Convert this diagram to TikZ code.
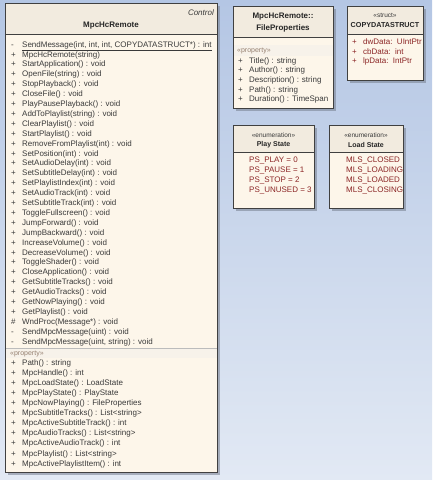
\documentclass[tikz,border=0pt]{standalone}
\usepackage{fontspec}
\setmainfont{Liberation Sans}
\usetikzlibrary{positioning}
\definecolor{bgtop}{RGB}{180,198,228}
\definecolor{bgbot}{RGB}{226,233,244}
\definecolor{boxbody}{RGB}{253,246,234}
\definecolor{boxhead}{RGB}{242,235,223}
\definecolor{propband}{RGB}{247,242,234}
\definecolor{boxline}{RGB}{64,64,64}
\definecolor{optext}{RGB}{58,58,58}
\definecolor{littext}{RGB}{140,38,38}
\definecolor{stereotext}{RGB}{150,128,112}
\definecolor{shadowc}{RGB}{118,126,142}
\newcommand{\vsign}[1]{\makebox[11pt][l]{#1}}

\begin{document}
\begin{tikzpicture}[x=1pt,y=-1pt]
		\tikzstyle{every node}+=[inner sep=0pt]
		\tikzstyle{member}=[anchor=west, font=\fontsize{8}{9}\selectfont, text=optext, text height=6pt, text depth=1.7pt]
		\tikzstyle{literal}=[member, text=littext]
		\tikzstyle{proplabel}=[member, font=\fontsize{7}{8}\selectfont, text=stereotext]
		\tikzstyle{stereotype}=[font=\fontsize{6.5}{7}\selectfont, text=optext]
		\tikzstyle{classname}=[font=\fontsize{8}{9}\selectfont\bfseries, text=black!85]
		\tikzstyle{classbox}=[draw=boxline, line width=0.8pt]
		\tikzstyle{boxshadow}=[fill=shadowc, opacity=0.55]
		\shade [top color=bgtop, bottom color=bgbot] (0,0) rectangle (432,480);
		\fill [boxshadow] (7.5,5.5) rectangle (219.5,474.5);
		\fill [boxbody] (5,3) rectangle (217,472);
		\fill [boxhead] (5,3) rectangle (217,34);
		\fill [propband] (5,348) rectangle (217,358);
		\draw [boxline] (5,34) -- (217,34);
		\draw [boxline!35] (5,348) -- (217,348);
		\draw [classbox] (5,3) rectangle (217,472);
		\node [font=\fontsize{8}{9}\selectfont\itshape, text=optext, anchor=east] (ctrl) at (214,13) {Control};
		\node [classname] (remote) at (111,26) {MpcHcRemote};
		\node [member] (m1) at (11,45) {\vsign{-}\underline{SendMessage(int, int, int, COPYDATASTRUCT*) : int}};
		\node [member] (m2) at (11,54.9) {\vsign{+}MpcHcRemote(string)};
		\node [member] (m3) at (11,64.8) {\vsign{+}StartApplication() : void};
		\node [member] (m4) at (11,74.7) {\vsign{+}OpenFile(string) : void};
		\node [member] (m5) at (11,84.6) {\vsign{+}StopPlayback() : void};
		\node [member] (m6) at (11,94.5) {\vsign{+}CloseFile() : void};
		\node [member] (m7) at (11,104.4) {\vsign{+}PlayPausePlayback() : void};
		\node [member] (m8) at (11,114.3) {\vsign{+}AddToPlaylist(string) : void};
		\node [member] (m9) at (11,124.2) {\vsign{+}ClearPlaylist() : void};
		\node [member] (m10) at (11,134.1) {\vsign{+}StartPlaylist() : void};
		\node [member] (m11) at (11,144) {\vsign{+}RemoveFromPlaylist(int) : void};
		\node [member] (m12) at (11,153.9) {\vsign{+}SetPosition(int) : void};
		\node [member] (m13) at (11,163.8) {\vsign{+}SetAudioDelay(int) : void};
		\node [member] (m14) at (11,173.7) {\vsign{+}SetSubtitleDelay(int) : void};
		\node [member] (m15) at (11,183.6) {\vsign{+}SetPlaylistIndex(int) : void};
		\node [member] (m16) at (11,193.5) {\vsign{+}SetAudioTrack(int) : void};
		\node [member] (m17) at (11,203.4) {\vsign{+}SetSubtitleTrack(int) : void};
		\node [member] (m18) at (11,213.3) {\vsign{+}ToggleFullscreen() : void};
		\node [member] (m19) at (11,223.2) {\vsign{+}JumpForward() : void};
		\node [member] (m20) at (11,233.1) {\vsign{+}JumpBackward() : void};
		\node [member] (m21) at (11,243) {\vsign{+}IncreaseVolume() : void};
		\node [member] (m22) at (11,252.9) {\vsign{+}DecreaseVolume() : void};
		\node [member] (m23) at (11,262.8) {\vsign{+}ToggleShader() : void};
		\node [member] (m24) at (11,272.7) {\vsign{+}CloseApplication() : void};
		\node [member] (m25) at (11,282.6) {\vsign{+}GetSubtitleTracks() : void};
		\node [member] (m26) at (11,292.5) {\vsign{+}GetAudioTracks() : void};
		\node [member] (m27) at (11,302.4) {\vsign{+}GetNowPlaying() : void};
		\node [member] (m28) at (11,312.3) {\vsign{+}GetPlaylist() : void};
		\node [member] (m29) at (11,322.2) {\vsign{\#}WndProc(Message*) : void};
		\node [member] (m30) at (11,332.1) {\vsign{-}SendMpcMessage(uint) : void};
		\node [member] (m31) at (11,342) {\vsign{-}SendMpcMessage(uint, string) : void};
		\node [proplabel] (prop) at (10,353) {«property»};
		\node [member] (p1) at (11,363) {\vsign{+}Path() : string};
		\node [member] (p2) at (11,373.1) {\vsign{+}MpcHandle() : int};
		\node [member] (p3) at (11,383.2) {\vsign{+}MpcLoadState() : LoadState};
		\node [member] (p4) at (11,393.3) {\vsign{+}MpcPlayState() : PlayState};
		\node [member] (p5) at (11,403.4) {\vsign{+}MpcNowPlaying() : FileProperties};
		\node [member] (p6) at (11,413.5) {\vsign{+}MpcSubtitleTracks() : List<string>};
		\node [member] (p7) at (11,423.6) {\vsign{+}MpcActiveSubtitleTrack() : int};
		\node [member] (p8) at (11,433.7) {\vsign{+}MpcAudioTracks() : List<string>};
		\node [member] (p9) at (11,443.8) {\vsign{+}MpcActiveAudioTrack() : int};
		\node [member] (p10) at (11,453.9) {\vsign{+}MpcPlaylist() : List<string>};
		\node [member] (p11) at (11,464) {\vsign{+}MpcActivePlaylistItem() : int};
		\fill [boxshadow] (235.5,8.5) rectangle (335.5,110.5);
		\fill [boxbody] (233,6) rectangle (333,108);
		\fill [boxhead] (233,6) rectangle (333,37);
		\fill [propband] (233,45) rectangle (333,56);
		\draw [boxline] (233,37) -- (333,37);
		\draw [classbox] (233,6) rectangle (333,108);
		\node [classname] (fpname1) at (283,17) {MpcHcRemote::};
		\node [classname] (fpname2) at (283,28) {FileProperties};
		\node [proplabel] (fpprop) at (237,50.5) {«property»};
		\node [member] (fp1) at (238,61) {\vsign{+}Title() : string};
		\node [member] (fp2) at (238,70.7) {\vsign{+}Author() : string};
		\node [member] (fp3) at (238,80.3) {\vsign{+}Description() : string};
		\node [member] (fp4) at (238,90) {\vsign{+}Path() : string};
		\node [member] (fp5) at (238,99.7) {\vsign{+}Duration() : TimeSpan};
		\fill [boxshadow] (349.5,8.5) rectangle (425.5,82.5);
		\fill [boxbody] (347,6) rectangle (423,80);
		\fill [boxhead] (347,6) rectangle (423,34);
		\draw [boxline] (347,34) -- (423,34);
		\draw [classbox] (347,6) rectangle (423,80);
		\node [stereotype] (cdstereo) at (385,15.3) {«struct»};
		\node [classname, font=\fontsize{7.2}{8}\selectfont\bfseries] (cdname) at (385,25) {COPYDATASTRUCT};
		\node [literal] (cd1) at (352,42.3) {\vsign{+}dwData:\ \ UIntPtr};
		\node [literal] (cd2) at (352,52) {\vsign{+}cbData:\ \ int};
		\node [literal] (cd3) at (352,61.7) {\vsign{+}lpData:\ \ IntPtr};
		\fill [boxshadow] (235.5,127.5) rectangle (316.5,210.5);
		\fill [boxbody] (233,125) rectangle (314,208);
		\fill [boxhead] (233,125) rectangle (314,152);
		\draw [boxline] (233,152) -- (314,152);
		\draw [classbox] (233,125) rectangle (314,208);
		\node [stereotype] (psstereo) at (273.5,135) {«enumeration»};
		\node [classname, font=\fontsize{7}{8}\selectfont\bfseries] (psname) at (273.5,145) {Play State};
		\node [literal] (ps1) at (249,160.7) {PS\_PLAY = 0};
		\node [literal] (ps2) at (249,170.7) {PS\_PAUSE = 1};
		\node [literal] (ps3) at (249,180.7) {PS\_STOP = 2};
		\node [literal] (ps4) at (249,190.3) {PS\_UNUSED = 3};
		\fill [boxshadow] (331.5,127.5) rectangle (405.5,210.5);
		\fill [boxbody] (329,125) rectangle (403,208);
		\fill [boxhead] (329,125) rectangle (403,152);
		\draw [boxline] (329,152) -- (403,152);
		\draw [classbox] (329,125) rectangle (403,208);
		\node [stereotype] (lsstereo) at (366,135) {«enumeration»};
		\node [classname, font=\fontsize{7}{8}\selectfont\bfseries] (lsname) at (366,145) {Load State};
		\node [literal] (ls1) at (346,160.7) {MLS\_CLOSED};
		\node [literal] (ls2) at (346,170.7) {MLS\_LOADING};
		\node [literal] (ls3) at (346,180.7) {MLS\_LOADED};
		\node [literal] (ls4) at (346,190.3) {MLS\_CLOSING};
\end{tikzpicture}
\end{document}
